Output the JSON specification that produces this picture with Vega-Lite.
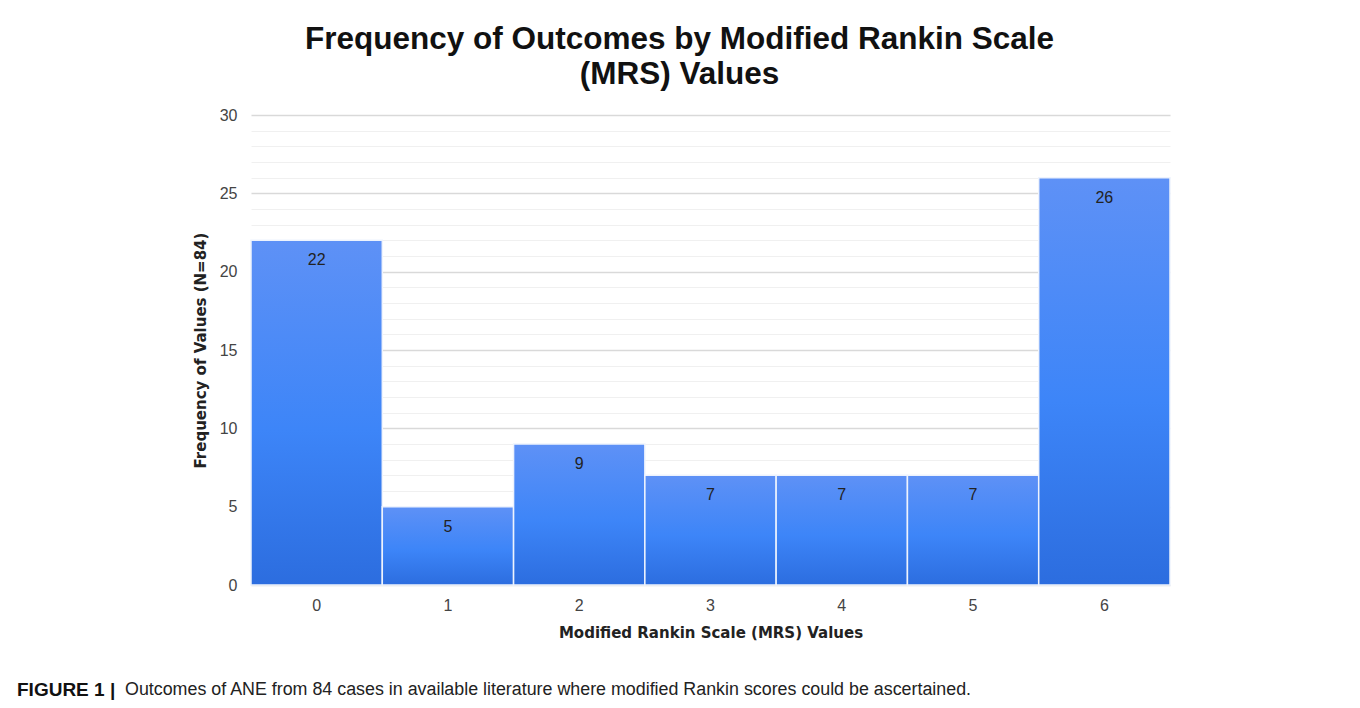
{
  "$schema": "https://vega.github.io/schema/vega-lite/v6.json",
  "width": 919,
  "height": 470,
  "autosize": {"type": "none"},
  "padding": {"left": 251, "top": 115, "right": 190, "bottom": 123},
  "background": "#ffffff",
  "title": {
    "text": ["Frequency of Outcomes by Modified Rankin Scale", "(MRS) Values"],
    "font": "Liberation Sans",
    "fontSize": 31.5,
    "fontWeight": "bold",
    "color": "#111111",
    "anchor": "middle",
    "frame": "group",
    "dx": -31,
    "lineHeight": 35,
    "offset": 17
  },
  "datasets": {
    "caption": [
      {"part": "bold", "text": "FIGURE 1 |"},
      {"part": "regular", "text": "Outcomes of ANE from 84 cases in available literature where modified Rankin scores could be ascertained."}
    ]
  },
  "data": {
    "values": [
      {"mrs": "0", "count": 22},
      {"mrs": "1", "count": 5},
      {"mrs": "2", "count": 9},
      {"mrs": "3", "count": 7},
      {"mrs": "4", "count": 7},
      {"mrs": "5", "count": 7},
      {"mrs": "6", "count": 26}
    ]
  },
  "layer": [
    {
      "mark": {
        "type": "bar",
        "stroke": "#eef3fd",
        "strokeWidth": 1.5,
        "color": {
          "gradient": "linear",
          "x1": 0, "y1": 0, "x2": 0, "y2": 1,
          "stops": [
            {"offset": 0, "color": "#5e91f6"},
            {"offset": 0.55, "color": "#3d85f8"},
            {"offset": 1, "color": "#2c6ddf"}
          ]
        }
      },
      "encoding": {
        "x": {
          "field": "mrs",
          "type": "ordinal",
          "scale": {"paddingInner": 0, "paddingOuter": 0},
          "axis": {
            "title": "Modified Rankin Scale (MRS) Values",
            "labelAngle": 0,
            "labelFont": "Liberation Sans",
            "labelFontSize": 16,
            "labelColor": "#444444",
            "labelPadding": 12,
            "titleFont": "DejaVu Sans",
            "titleFontSize": 15,
            "titleFontWeight": "bold",
            "titleColor": "#222222",
            "titlePadding": 12,
            "domain": false,
            "ticks": false,
            "grid": false
          }
        },
        "y": {
          "field": "count",
          "type": "quantitative",
          "scale": {"domain": [0, 30], "nice": false},
          "axis": {
            "title": "Frequency of Values (N=84)",
            "values": [0,1,2,3,4,5,6,7,8,9,10,11,12,13,14,15,16,17,18,19,20,21,22,23,24,25,26,27,28,29,30],
            "tickCount": 40,
            "labelOverlap": false,
            "labelExpr": "datum.value % 5 === 0 ? datum.label : ''",
            "labelFont": "Liberation Sans",
            "labelFontSize": 16,
            "labelColor": "#444444",
            "labelPadding": 14,
            "titleFont": "DejaVu Sans",
            "titleFontSize": 15,
            "titleFontWeight": "bold",
            "titleColor": "#222222",
            "titlePadding": 11,
            "domain": false,
            "ticks": false,
            "grid": true,
            "gridColor": {"condition": {"test": "datum.value % 5 === 0", "value": "#d9d9d9"}, "value": "#f0f0f0"},
            "gridWidth": {"condition": {"test": "datum.value % 5 === 0", "value": 1.3}, "value": 1}
          }
        }
      }
    },
    {
      "mark": {
        "type": "text",
        "font": "Liberation Sans",
        "fontSize": 16,
        "color": "#222222",
        "baseline": "middle",
        "dy": 20
      },
      "encoding": {
        "x": {"field": "mrs", "type": "ordinal"},
        "y": {"field": "count", "type": "quantitative"},
        "text": {"field": "count", "type": "quantitative"}
      }
    },
    {
      "data": {"name": "caption"},
      "transform": [{"filter": "datum.part === 'bold'"}],
      "mark": {
        "type": "text",
        "font": "Liberation Sans",
        "fontSize": 19,
        "fontWeight": "bold",
        "color": "#111111",
        "align": "left",
        "baseline": "middle",
        "dx": -234,
        "clip": false
      },
      "encoding": {
        "x": {"datum": "0", "bandPosition": 0},
        "y": {"datum": -6.7},
        "text": {"field": "text"}
      }
    },
    {
      "data": {"name": "caption"},
      "transform": [{"filter": "datum.part === 'regular'"}],
      "mark": {
        "type": "text",
        "font": "Liberation Sans",
        "fontSize": 17.85,
        "color": "#222222",
        "align": "left",
        "baseline": "middle",
        "dx": -126,
        "clip": false
      },
      "encoding": {
        "x": {"datum": "0", "bandPosition": 0},
        "y": {"datum": -6.7},
        "text": {"field": "text"}
      }
    }
  ],
  "config": {
    "view": {"stroke": null}
  }
}
